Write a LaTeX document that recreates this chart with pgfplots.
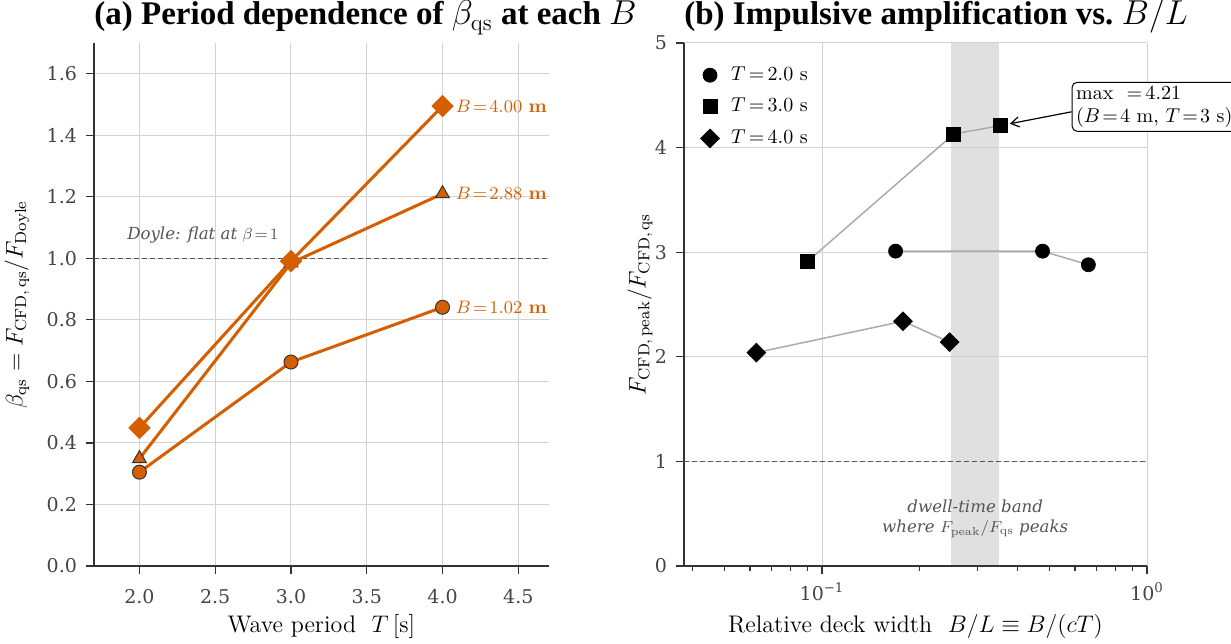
\documentclass[border=0pt]{standalone}
\usepackage{fontspec}
\usepackage{pgfplots}
\pgfplotsset{compat=1.18}
\usetikzlibrary{arrows.meta}

\newfontfamily\tickfont{DejaVu Serif}
\newfontfamily\titlefont{Liberation Serif}
\newfontfamily\notefont{DejaVu Serif}

\definecolor{vermil}{HTML}{D55E00}
\definecolor{spine}{HTML}{333333}
\definecolor{tickc}{HTML}{444444}
\definecolor{gridc}{HTML}{D2D2D2}
\definecolor{bandc}{HTML}{E0E0E0}
\definecolor{refc}{HTML}{555555}
\definecolor{linkc}{HTML}{ABABAB}

\pgfplotsset{
  panel/.style={
    scale only axis, anchor=south west, height=261.5pt,
    axis x line*=bottom, axis y line*=left,
    axis line style={draw=spine, line width=0.6pt, -},
    tick align=outside, major tick length=4pt, minor tick length=2.3pt,
    tick style={draw=spine, line width=0.6pt},
    grid=major, major grid style={draw=gridc, line width=0.5pt},
    ticklabel style={font=\tickfont\fontsize{9.5}{11}\selectfont, text=tickc},
    yticklabel style={xshift=-1pt},
    /pgf/number format/assume math mode=true,
    every axis title/.style={at={(0,1)}, anchor=base west, yshift=9pt, inner sep=0pt,
      font=\titlefont\bfseries\fontsize{16.5}{18}\selectfont},
    every axis x label/.style={at={(0.5,0)}, anchor=base, yshift=-33pt,
      font=\fontsize{12}{14}\selectfont},
    clip=false,
  },
  beta/.style={vermil, line width=1.5pt,
    mark options={fill=vermil, draw=black!80, line width=0.5pt, solid}},
}
\tikzset{
  blabel/.style={anchor=west, xshift=3.2pt, text=vermil, font=\fontsize{9.5}{11}\selectfont},
  note/.style={text=refc, font=\notefont\itshape\fontsize{8.3}{10}\selectfont},
}

\begin{document}
\begin{tikzpicture}

% (a) quasi-static ratio against period
\begin{axis}[panel, at={(47pt,38.5pt)}, width=227.3pt,
  xmin=1.7, xmax=4.7, ymin=0, ymax=1.7,
  xtick={2,2.5,3,3.5,4,4.5},
  ytick={0,0.2,0.4,0.6,0.8,1.0,1.2,1.4,1.6},
  xticklabel style={yshift=-4.25pt, /pgf/number format/fixed, /pgf/number format/fixed zerofill, /pgf/number format/precision=1},
  yticklabel style={/pgf/number format/fixed, /pgf/number format/fixed zerofill, /pgf/number format/precision=1},
  title={(a) Period dependence of $\beta_{\mathrm{qs}}$ at each $B$},
  xlabel={Wave period\ \ $T\,$[s]},
  ylabel={$\beta_{\mathrm{qs}} = F_{\mathrm{CFD,\,qs}}/F_{\mathrm{Doyle}}$},
  every axis y label/.style={at={(-0.1694,0.5)}, rotate=90, anchor=center,
    font=\fontsize{12}{14}\selectfont},
]
\addplot[refc, line width=0.6pt, dash pattern=on 2.6pt off 1.4pt, forget plot]
  coordinates {(1.7,1) (4.7,1)};
\node[note, anchor=base west, inner sep=0pt]
  at (axis cs:1.917,1.06) {Doyle: flat at $\beta\!=\!1$};

\addplot[beta, mark=*, mark size=3.5pt]
  coordinates {(2,0.305) (3,0.663) (4,0.841)};
\addplot[beta, mark=triangle*, mark size=4pt]
  coordinates {(2,0.349) (3,0.985) (4,1.21)};
\addplot[beta, mark=square*, mark size=3.2pt, mark options={rotate=45}]
  coordinates {(2,0.449) (3,0.991) (4,1.495)};

\node[blabel] at (axis cs:4,1.495) {$B\!=\!4.00$ \textbf{m}};
\node[blabel] at (axis cs:4,1.21) {$B\!=\!2.88$ \textbf{m}};
\node[blabel] at (axis cs:4,0.841) {$B\!=\!1.02$ \textbf{m}};
\end{axis}

% (b) peak over quasi-static against relative deck width
\begin{axis}[panel, at={(342pt,38.5pt)}, width=231.5pt, set layers,
  xmode=log, xmin=0.0376, xmax=1, ymin=0, ymax=5,
  ytick={0,1,2,3,4,5},
  xtick={0.1,1}, xticklabels={10\textsuperscript{−1}, 10\textsuperscript{0}},
  xticklabel style={yshift=-1pt},
  minor xtick={0.04,0.05,0.06,0.07,0.08,0.09,0.2,0.3,0.4,0.5,0.6,0.7,0.8,0.9},
  title={(b) Impulsive amplification vs.\ $B/L$},
  xlabel={Relative deck width\ \ $B/L\equiv B/(cT)$},
  ylabel={$F_{\mathrm{CFD,\,peak}}/F_{\mathrm{CFD,\,qs}}$},
  every axis y label/.style={at={(-0.095,0.5)}, rotate=90, anchor=center,
    font=\fontsize{12}{14}\selectfont},
  legend style={at={(0,1)}, anchor=north west, yshift=-10.9pt, draw=none, fill=none,
    inner sep=0pt, font=\fontsize{10}{12}\selectfont, row sep=5.8pt,
    nodes={inner sep=0pt, text height=7.5pt, text depth=2.5pt}},
  legend image code/.code={\draw[#1] plot coordinates {(0pt,0pt)};
    \path[draw=none, fill=none] (-12.8pt,-5pt) rectangle (10.5pt,5pt);},
  legend cell align=left,
]
\addplot[fill=bandc, draw=none, on layer=axis background, forget plot]
  coordinates {(0.25,0) (0.25,5) (0.35,5) (0.35,0)} -- cycle;
\addplot[refc, line width=0.6pt, dash pattern=on 2.6pt off 1.4pt, forget plot]
  coordinates {(0.0376,1) (1,1)};

\addplot[linkc, line width=0.75pt, forget plot]
  coordinates {(0.1684,3.01) (0.477,3.01) (0.660,2.88)};
\addplot[linkc, line width=0.75pt, forget plot]
  coordinates {(0.0901,2.91) (0.2544,4.13) (0.353,4.21)};
\addplot[linkc, line width=0.75pt, forget plot]
  coordinates {(0.0628,2.04) (0.1775,2.34) (0.247,2.14)};

\addplot[only marks, black, mark=*, mark size=3.5pt]
  coordinates {(0.1684,3.01) (0.477,3.01) (0.660,2.88)};
\addlegendentry{$T\,{=}\,2.0$ s}
\addplot[only marks, black, mark=square*, mark size=3.5pt]
  coordinates {(0.0901,2.91) (0.2544,4.13) (0.353,4.21)};
\addlegendentry{$T\,{=}\,3.0$ s}
\addplot[only marks, black, mark=square*, mark size=3.3pt, mark options={rotate=45}]
  coordinates {(0.0628,2.04) (0.1775,2.34) (0.247,2.14)};
\addlegendentry{$T\,{=}\,4.0$ s}

\node[note, align=center]
  at (axis cs:0.296,0.45) {dwell-time band\\where $F_{\mathrm{peak}}/F_{\mathrm{qs}}$ peaks};

\node[draw=black, rounded corners=2.5pt, fill=white, line width=0.5pt, inner sep=2pt,
  align=left, anchor=west, font=\fontsize{10}{11.5}\selectfont] (ann)
  at (axis cs:0.586,4.39) {max\ \ ${=}\,4.21$\\($B\!=\!4$ m, $T\!=\!3$ s)};
\draw[-{Straight Barb[length=4pt,width=5pt]}, line width=0.6pt, shorten >=5pt]
  ([yshift=-2.5pt]ann.west) -- (axis cs:0.353,4.21);
\end{axis}

\pgfresetboundingbox
\path[use as bounding box] (0,0) rectangle (615.5pt,321.5pt);
\end{tikzpicture}
\end{document}
